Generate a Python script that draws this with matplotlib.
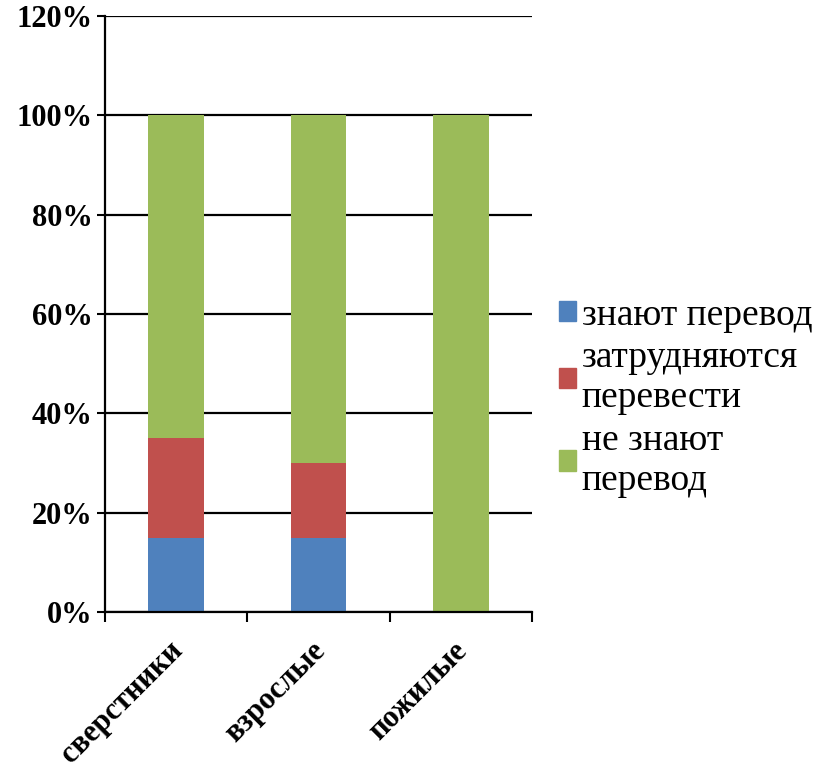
import matplotlib.pyplot as plt
import numpy as np
from matplotlib.patches import Patch

# данные
categories = ['сверстники', 'взрослые', 'пожилые']
know = [15, 15, 0]
hard = [20, 15, 0]
dont_know = [65, 70, 100]
series_names = ['знают перевод', 'затрудняются\nперевести', 'не знают\nперевод']
colors = ['#4F81BD', '#C0504D', '#9BBB59']

plt.rcParams['font.family'] = ['Liberation Serif', 'DejaVu Serif']

fg = plt.figure(figsize=(8.32, 7.7), dpi=100)
ax = fg.add_axes([105 / 832, 1 - 612 / 770, (532 - 105) / 832, (612 - 16) / 770])

x = np.arange(len(categories))
w = 0.39
bottom = np.zeros(len(categories))
for vals, c in zip([know, hard, dont_know], colors):
    ax.bar(x, vals, w, bottom=bottom, color=c, zorder=3)
    bottom += np.array(vals)

ax.set_xlim(-0.5, 2.5)
ax.set_ylim(0, 120)
ax.set_yticks(range(0, 121, 20))
ax.set_yticklabels([f'{v}%' for v in range(0, 121, 20)], fontsize=22, fontweight='bold')
ax.yaxis.grid(True, color='black', linewidth=1.6, zorder=0)
ax.set_axisbelow(True)

ax.set_xticks([-0.5, 0.5, 1.5, 2.5])
ax.set_xticklabels([])
ax.set_xticks(x, minor=True)
ax.set_xticklabels(categories, minor=True, rotation=45, ha='right', va='center_baseline',
                   rotation_mode='anchor', fontsize=22, fontweight='bold')
ax.tick_params(axis='x', which='minor', length=0, pad=23)
ax.tick_params(axis='x', which='major', length=7, width=1.5, direction='out')
ax.tick_params(axis='y', length=6, width=1.5, direction='out', pad=3)

for s in ['top', 'right']:
    ax.spines[s].set_visible(False)
for s in ['left', 'bottom']:
    ax.spines[s].set_linewidth(1.6)
    ax.spines[s].set_zorder(4)

handles = [Patch(color=c) for c in colors]
fg.legend(handles, series_names, loc='center left', bbox_to_anchor=(559 / 832, 1 - 398 / 770),
          frameon=False, fontsize=27, handlelength=0.45, handleheight=0.45,
          handletextpad=0.15, labelspacing=0.22, borderpad=0, borderaxespad=0)

fg.savefig('out.png', dpi=100)
